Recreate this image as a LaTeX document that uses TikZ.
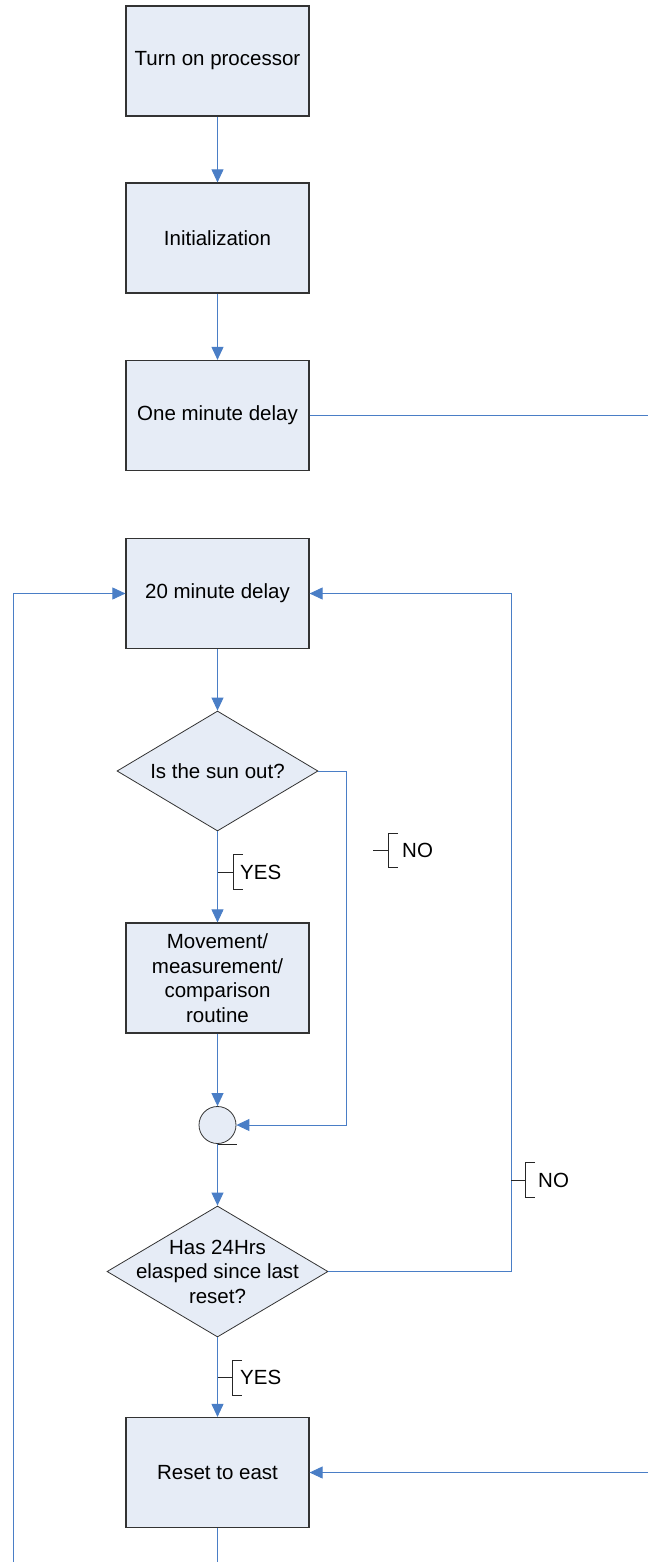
\documentclass[tikz,border=0pt]{standalone}
\usepackage{fontspec}
\setmainfont{Liberation Sans}
\usetikzlibrary{shapes.geometric, arrows.meta, positioning}

\definecolor{boxfill}{HTML}{E6ECF6}
\definecolor{flowblue}{HTML}{4A7EC6}

\begin{document}
\begin{tikzpicture}[x=1pt, y=-1pt, font=\fontsize{20.5}{24.5}\selectfont,
    process/.style={draw=black!80, fill=boxfill, line width=1.2pt, minimum width=183pt, minimum height=110pt, align=center, inner sep=0pt},
    decision/.style={draw=black!80, fill=boxfill, diamond, line width=0.8pt, inner sep=0pt},
    flow/.style={draw=flowblue, line width=0.9pt},
    arrow/.style={flow, -{Triangle[length=13pt, width=12pt]}},
    bracket/.style={draw=black!85, line width=0.8pt},
    tag/.style={anchor=west, inner sep=0pt}]
    \useasboundingbox (0,0) rectangle (648,1562);

    % Start-up steps
    \node[process] (turnon) at (217.5,61) {Turn on processor};
    \node[process] (init) at (217.5,238) {Initialization};
    \node[process] (onemin) at (217.5,415.5) {One minute delay};

    % Main loop
    \node[process] (twentymin) at (217.5,593.5) {20 minute delay};
    \node[decision, minimum width=201pt, minimum height=120pt] (sunout) at (217.5,771) {};
    \node (sunouttext) at (sunout) {Is the sun out?};
    \node[process] (move) at (217.5,978) {Movement/\\measurement/\\comparison\\routine};
    \node[draw=black!80, fill=boxfill, circle, line width=0.8pt, minimum size=37pt, inner sep=0pt] (join) at (217.5,1125) {};
    \node[decision, minimum width=221pt, minimum height=131pt] (hours) at (217.5,1271.5) {};
    \node[align=center] (hourstext) at (hours) {Has 24Hrs\\elasped since last\\reset?};
    \node[process] (reset) at (217.5,1472.5) {Reset to east};

    % Off-page ends
    \coordinate (offright) at (648,415.5);
    \coordinate (offbottom) at (217.5,1562);
    \coordinate (offleft) at (13,1562);
    \coordinate (offright2) at (648,1472.5);

    % Connectors
    \draw[arrow] (turnon) -- (init);
    \draw[arrow] (init) -- (onemin);
    \draw[flow] (onemin.east) -- (offright);
    \draw[arrow] (twentymin) -- (sunout);
    \draw[arrow] (sunout) -- (move);
    \draw[arrow] (move) -- (join);
    \draw[arrow] (sunout.east) -- ++(28,0) |- (join.east);
    \draw[arrow] (join) -- (hours);
    \draw[arrow] (hours.east) -- ++(183,0) |- (twentymin.east);
    \draw[arrow] (hours) -- (reset);
    \draw[flow] (reset) -- (offbottom);
    \draw[arrow] (offleft) |- (twentymin.west);
    \draw[arrow] (offright2) -- (reset.east);
    \draw[bracket] (join.south) -- ++(19,0);

    % YES / NO labels
    \draw[bracket] (217.5,872) -- (233,872) (243,854) -- (233,854) -- (233,889) -- (243,889);
    \node[tag] (yes1) at (240,872) {YES};
    \draw[bracket] (373,850) -- (388,850) (398,833) -- (388,833) -- (388,867) -- (398,867);
    \node[tag] (no1) at (402,850) {NO};
    \draw[bracket] (511,1180) -- (525,1180) (535,1162) -- (525,1162) -- (525,1197) -- (535,1197);
    \node[tag] (no2) at (538,1180) {NO};
    \draw[bracket] (217.5,1377) -- (232,1377) (242,1360) -- (232,1360) -- (232,1395) -- (242,1395);
    \node[tag] (yes2) at (240,1377) {YES};
\end{tikzpicture}
\end{document}
